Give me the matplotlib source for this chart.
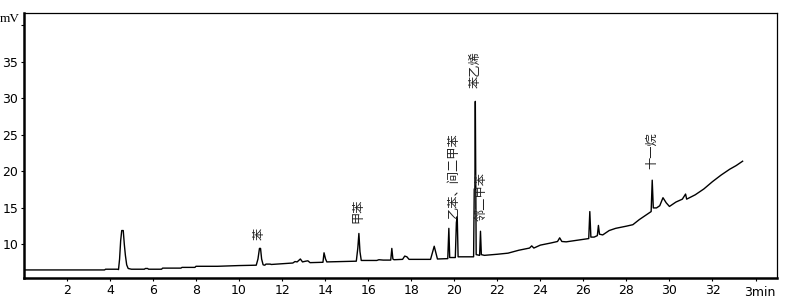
import matplotlib
matplotlib.use("Agg")
import matplotlib.pyplot as plt

# Chromatogram trace (time in min, signal in mV)
times = [0.0, 3.75, 3.8, 4.35, 4.4, 4.45, 4.5, 4.55, 4.62, 4.67, 4.72, 4.78, 4.85, 5.0,
         5.6, 5.65, 5.75, 5.8, 6.4, 6.45, 7.3, 7.35, 7.95, 8.0, 9.0, 10.0, 10.8,
         10.88, 10.95, 11.0, 11.05, 11.12, 11.2, 11.25, 11.45, 11.5, 12.5, 12.6, 12.7,
         12.85, 12.95, 13.1, 13.2, 13.3, 13.9, 13.95, 14.02, 14.08, 15.45, 15.52,
         15.57, 15.62, 15.68, 16.4, 16.5, 16.7, 17.05, 17.1, 17.15, 17.2, 17.6, 17.7,
         17.8, 17.9, 18.9, 19.0, 19.07, 19.15, 19.22, 19.7, 19.75, 19.79, 20.05, 20.1,
         20.14, 20.18, 20.9, 20.93, 20.96, 20.98, 21.02, 21.18, 21.22, 21.26, 21.4,
         22.0, 22.5, 23.0, 23.5, 23.6, 23.7, 24.0, 24.5, 24.8, 24.9, 25.0, 25.2, 25.8,
         26.25, 26.3, 26.35, 26.5, 26.65, 26.7, 26.75, 26.9, 27.2, 27.5, 28.0, 28.3,
         28.6, 29.0, 29.15, 29.2, 29.25, 29.4, 29.55, 29.7, 29.85, 30.0, 30.3, 30.6,
         30.75, 30.8, 31.2, 31.6, 32.0, 32.4, 32.8, 33.1, 33.4]
signal = [6.5, 6.5, 6.6, 6.6, 6.55, 8.0, 10.5, 11.9, 11.9, 10.0, 8.5, 7.2, 6.7, 6.6,
          6.6, 6.7, 6.7, 6.6, 6.6, 6.75, 6.75, 6.85, 6.85, 7.0, 7.0, 7.1, 7.15,
          8.0, 9.45, 9.45, 8.0, 7.2, 7.15, 7.3, 7.3, 7.25, 7.45, 7.65, 7.6,
          8.0, 7.6, 7.7, 7.75, 7.5, 7.55, 8.85, 8.0, 7.6, 7.7, 9.5,
          11.5, 9.0, 7.8, 7.8, 7.9, 7.85, 7.85, 9.45, 8.0, 7.9, 7.95, 8.4,
          8.3, 7.95, 7.95, 9.0, 9.75, 8.8, 8.0, 8.05, 12.2, 8.2, 8.2, 13.0,
          13.8, 8.3, 8.3, 17.6, 17.6, 29.6, 8.6, 8.5, 11.8, 8.6, 8.5,
          8.65, 8.8, 9.2, 9.5, 9.8, 9.5, 9.9, 10.2, 10.4, 10.9, 10.4, 10.35, 10.6,
          10.8, 14.5, 11.0, 11.0, 11.2, 12.6, 11.4, 11.3, 11.9, 12.2, 12.5, 12.7,
          13.4, 14.2, 14.5, 18.8, 15.0, 15.0, 15.3, 16.4, 15.7, 15.2, 15.8, 16.2,
          16.9, 16.2, 16.8, 17.6, 18.6, 19.5, 20.3, 20.8, 21.4]

# Peak labels
peak_names = ["苯", "甲苯", "乙苯、间二甲苯", "苯乙烯", "邻二甲苯", "十一烷"]
label_x = [10.95, 15.54, 19.97, 20.95, 21.23, 29.16]
label_y = [11.4, 14.6, 19.5, 33.9, 16.5, 22.8]

x_ticks = [2, 4, 6, 8, 10, 12, 14, 16, 18, 20, 22, 24, 26, 28, 30, 32]
y_ticks = [10, 15, 20, 25, 30, 35]

fig = plt.figure(figsize=(7.86, 2.97), dpi=100)
ax = fig.add_axes([0.0303, 0.0653, 0.9583, 0.8907])
ax.plot(times, signal, color="black", lw=1.0)

ax.set_xlim(0, 35)
ax.set_ylim(5.45, 41.7)

tick_font = dict(family=["Liberation Sans Narrow", "DejaVu Sans"], size=9)
ax.set_xticks(x_ticks + [34])
ax.set_xticklabels([str(t) for t in x_ticks] + [""], **tick_font)
ax.set_yticks(y_ticks + [40])
ax.set_yticklabels([str(t) for t in y_ticks] + [""], **tick_font)
ax.tick_params(axis="both", direction="out", length=2.5, width=0.8, pad=1.5)
ax.tick_params(axis="x", pad=2)

ax.text(34.2, -0.03, "3min", transform=ax.get_xaxis_transform(), ha="center",
        va="top", family=["Liberation Sans Narrow", "DejaVu Sans"], size=9)
fig.text(10 / 786, 1 - 19 / 297, "mV", ha="center", va="center",
         family=["Liberation Serif", "DejaVu Serif"], size=9.5)

for sp in ["left", "bottom"]:
    ax.spines[sp].set_linewidth(1.8)
for sp in ["top", "right"]:
    ax.spines[sp].set_linewidth(0.9)

for name, lx, ly in zip(peak_names, label_x, label_y):
    ax.text(lx, ly, name, rotation=90, ha="center", va="center",
            family=["Noto Sans CJK SC", "DejaVu Sans"], size=8.8, color="#222222")

fig.savefig("out.png", dpi=100)
